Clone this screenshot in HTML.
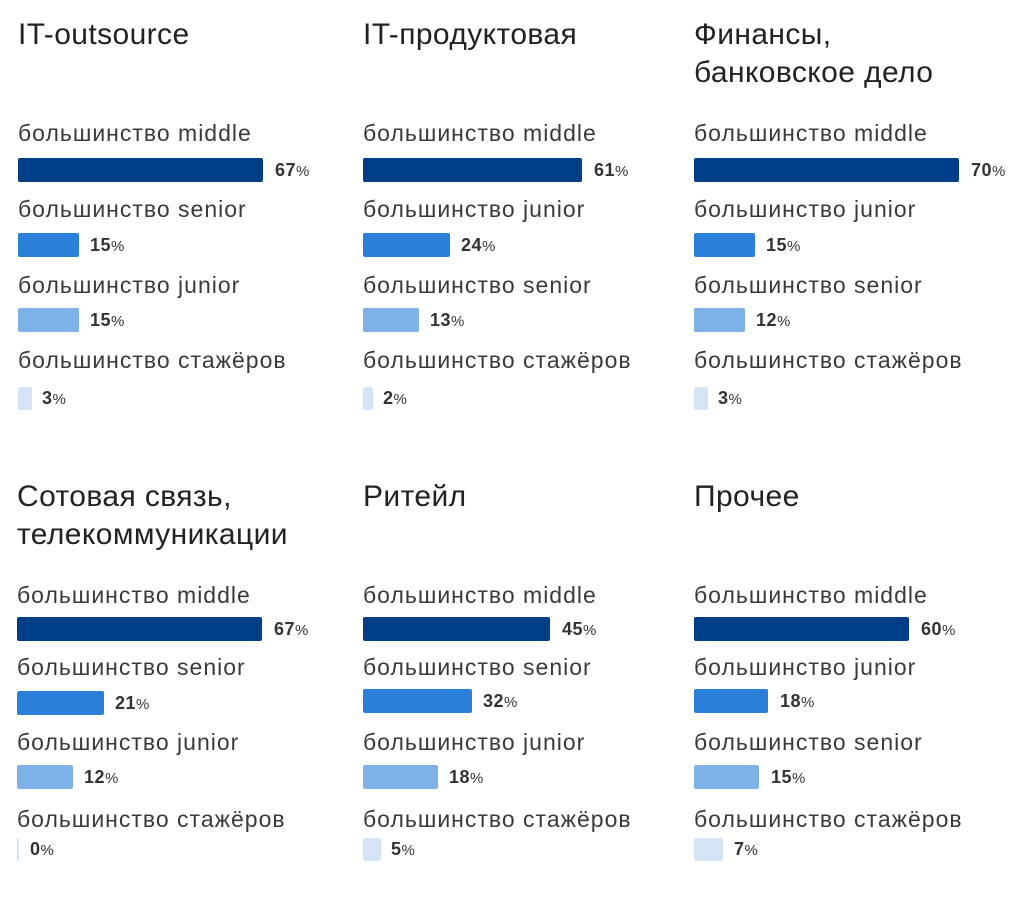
<!DOCTYPE html>
<html><head><meta charset="utf-8"><style>
body{margin:0;width:1027px;height:905px;background:#fff;position:relative;overflow:hidden;font-family:"Liberation Sans","DejaVu Sans",sans-serif;color:#333}
.t{position:absolute;font-size:30px;line-height:38px;color:#222;white-space:nowrap;letter-spacing:0.4px}
.l{position:absolute;font-size:23px;line-height:22px;color:#3a3a3a;white-space:nowrap;letter-spacing:1px}
.b{position:absolute;height:24px;border-radius:2px}
.p{position:absolute;font-size:18px;line-height:17px;font-weight:bold;color:#333;white-space:nowrap;letter-spacing:0.5px}
.p small{font-size:15px;font-weight:normal}
.c1{background:#003f87}.c2{background:#2a7fd9}.c3{background:#7fb2e8}.c4{background:#d5e4f5}
</style></head><body>
<div class="t" style="left:18px;top:16px">IT-outsource</div>
<div class="t" style="left:363px;top:16px">IT-продуктовая</div>
<div class="t" style="left:694px;top:16px">Финансы,<br>банковское дело</div>
<div class="t" style="left:17px;top:478px">Сотовая связь,<br>телекоммуникации</div>
<div class="t" style="left:363px;top:478px">Ритейл</div>
<div class="t" style="left:694px;top:478px">Прочее</div>

<!-- col1 top -->
<div class="l" style="left:18px;top:122px">большинство middle</div>
<div class="b c1" style="left:18px;top:158px;width:245px"></div><div class="p" style="left:275px;top:162px">67<small>%</small></div>
<div class="l" style="left:18px;top:198px">большинство senior</div>
<div class="b c2" style="left:18px;top:233px;width:61px"></div><div class="p" style="left:90px;top:237px">15<small>%</small></div>
<div class="l" style="left:18px;top:274px">большинство junior</div>
<div class="b c3" style="left:18px;top:308px;width:61px"></div><div class="p" style="left:90px;top:312px">15<small>%</small></div>
<div class="l" style="left:18px;top:349px">большинство стажёров</div>
<div class="b c4" style="left:18px;top:387px;width:14px;height:23px"></div><div class="p" style="left:42px;top:390px">3<small>%</small></div>

<!-- col2 top -->
<div class="l" style="left:363px;top:122px">большинство middle</div>
<div class="b c1" style="left:363px;top:158px;width:219px"></div><div class="p" style="left:594px;top:162px">61<small>%</small></div>
<div class="l" style="left:363px;top:198px">большинство junior</div>
<div class="b c2" style="left:363px;top:233px;width:87px"></div><div class="p" style="left:461px;top:237px">24<small>%</small></div>
<div class="l" style="left:363px;top:274px">большинство senior</div>
<div class="b c3" style="left:363px;top:308px;width:56px"></div><div class="p" style="left:430px;top:312px">13<small>%</small></div>
<div class="l" style="left:363px;top:349px">большинство стажёров</div>
<div class="b c4" style="left:363px;top:387px;width:10px;height:23px"></div><div class="p" style="left:383px;top:390px">2<small>%</small></div>

<!-- col3 top -->
<div class="l" style="left:694px;top:122px">большинство middle</div>
<div class="b c1" style="left:694px;top:158px;width:265px"></div><div class="p" style="left:971px;top:162px">70<small>%</small></div>
<div class="l" style="left:694px;top:198px">большинство junior</div>
<div class="b c2" style="left:694px;top:233px;width:61px"></div><div class="p" style="left:766px;top:237px">15<small>%</small></div>
<div class="l" style="left:694px;top:274px">большинство senior</div>
<div class="b c3" style="left:694px;top:308px;width:51px"></div><div class="p" style="left:756px;top:312px">12<small>%</small></div>
<div class="l" style="left:694px;top:349px">большинство стажёров</div>
<div class="b c4" style="left:694px;top:387px;width:14px;height:23px"></div><div class="p" style="left:718px;top:390px">3<small>%</small></div>

<!-- col1 bottom -->
<div class="l" style="left:17px;top:584px">большинство middle</div>
<div class="b c1" style="left:17px;top:617px;width:245px"></div><div class="p" style="left:274px;top:621px">67<small>%</small></div>
<div class="l" style="left:17px;top:656px">большинство senior</div>
<div class="b c2" style="left:17px;top:691px;width:87px"></div><div class="p" style="left:115px;top:695px">21<small>%</small></div>
<div class="l" style="left:17px;top:731px">большинство junior</div>
<div class="b c3" style="left:17px;top:765px;width:56px"></div><div class="p" style="left:84px;top:769px">12<small>%</small></div>
<div class="l" style="left:17px;top:808px">большинство стажёров</div>
<div class="b c4" style="left:17px;top:838px;width:2px;height:23px"></div><div class="p" style="left:30px;top:841px">0<small>%</small></div>

<!-- col2 bottom -->
<div class="l" style="left:363px;top:584px">большинство middle</div>
<div class="b c1" style="left:363px;top:617px;width:187px"></div><div class="p" style="left:562px;top:621px">45<small>%</small></div>
<div class="l" style="left:363px;top:656px">большинство senior</div>
<div class="b c2" style="left:363px;top:689px;width:109px"></div><div class="p" style="left:483px;top:693px">32<small>%</small></div>
<div class="l" style="left:363px;top:731px">большинство junior</div>
<div class="b c3" style="left:363px;top:765px;width:75px"></div><div class="p" style="left:449px;top:769px">18<small>%</small></div>
<div class="l" style="left:363px;top:808px">большинство стажёров</div>
<div class="b c4" style="left:363px;top:838px;width:18px;height:23px"></div><div class="p" style="left:391px;top:841px">5<small>%</small></div>

<!-- col3 bottom -->
<div class="l" style="left:694px;top:584px">большинство middle</div>
<div class="b c1" style="left:694px;top:617px;width:215px"></div><div class="p" style="left:921px;top:621px">60<small>%</small></div>
<div class="l" style="left:694px;top:656px">большинство junior</div>
<div class="b c2" style="left:694px;top:689px;width:74px"></div><div class="p" style="left:780px;top:693px">18<small>%</small></div>
<div class="l" style="left:694px;top:731px">большинство senior</div>
<div class="b c3" style="left:694px;top:765px;width:65px"></div><div class="p" style="left:771px;top:769px">15<small>%</small></div>
<div class="l" style="left:694px;top:808px">большинство стажёров</div>
<div class="b c4" style="left:694px;top:838px;width:29px;height:23px"></div><div class="p" style="left:734px;top:841px">7<small>%</small></div>
</body></html>
